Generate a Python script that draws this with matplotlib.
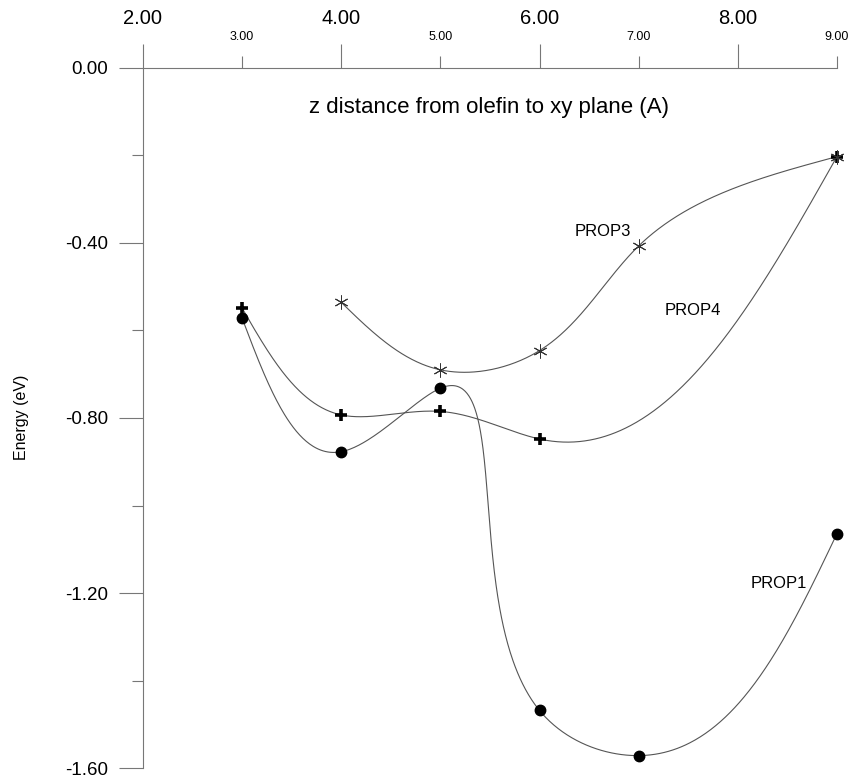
import matplotlib
matplotlib.use("Agg")
import matplotlib.pyplot as plt
import numpy as np
from matplotlib.ticker import FixedLocator, FormatStrFormatter

plt.rcParams['font.family'] = ['Liberation Sans', 'DejaVu Sans']

# data
prop1_x = [3, 4, 5, 6, 7, 9]
prop1_y = [-0.572, -0.877, -0.732, -1.468, -1.571, -1.064]
prop4_x = [3, 4, 5, 6, 9]
prop4_y = [-0.549, -0.793, -0.785, -0.848, -0.203]
prop3_x = [4, 5, 6, 7, 9]
prop3_y = [-0.536, -0.690, -0.646, -0.407, -0.203]

x_major = [2, 4, 6, 8]
x_minor = [3, 5, 7, 9]
y_major = [0.0, -0.4, -0.8, -1.2, -1.6]
y_minor = [-0.2, -0.6, -1.0, -1.4]


def natural_coeffs(t, v):
    k = len(t)
    h = np.diff(t)
    A = np.zeros((k, k))
    r = np.zeros(k)
    A[0, 0] = 1
    A[-1, -1] = 1
    for i in range(1, k - 1):
        A[i, i - 1] = h[i - 1]
        A[i, i] = 2 * (h[i - 1] + h[i])
        A[i, i + 1] = h[i]
        r[i] = 3 * ((v[i + 1] - v[i]) / h[i] - (v[i] - v[i - 1]) / h[i - 1])
    c = np.linalg.solve(A, r)
    b = (v[1:] - v[:-1]) / h - h * (2 * c[:-1] + c[1:]) / 3
    d = (c[1:] - c[:-1]) / (3 * h)
    return b, c, d


def smooth_curve(ax, x, y, n=600):
    # parametric natural spline, chord length measured on screen
    x = np.asarray(x, float)
    y = np.asarray(y, float)
    pts = ax.transData.transform(np.column_stack([x, y]))
    t = np.concatenate([[0], np.cumsum(np.hypot(*np.diff(pts, axis=0).T))])
    ts = np.linspace(0, t[-1], n)
    idx = np.clip(np.searchsorted(t, ts, side='right') - 1, 0, len(t) - 2)
    dt = ts - t[idx]
    out = []
    for v in (pts[:, 0], pts[:, 1]):
        b, c, d = natural_coeffs(t, v)
        out.append(v[idx] + b[idx] * dt + c[idx] * dt**2 + d[idx] * dt**3)
    back = ax.transData.inverted().transform(np.column_stack(out))
    return back[:, 0], back[:, 1]


fig = plt.figure(figsize=(8.52, 7.78), dpi=100)
ax = fig.add_axes([0.1678, 0.01247, 0.81455, 0.90051])
ax.set_xlim(2, 9)
ax.set_ylim(-1.6, 0)

line_c = '#555555'
axis_c = '#777777'

for xs, ys in [(prop1_x, prop1_y), (prop4_x, prop4_y), (prop3_x, prop3_y)]:
    sx, sy = smooth_curve(ax, xs, ys)
    ax.plot(sx, sy, color=line_c, lw=0.8, clip_on=False)

ax.plot(prop1_x, prop1_y, 'o', color='black', ms=7.5, ls='none', clip_on=False)
ax.plot(prop4_x, prop4_y, '+', color='black', ms=9, mew=2.6, ls='none', clip_on=False)
ax.plot(prop3_x, prop3_y, marker=(6, 2, 0), color='#333333', ms=10, mew=0.7,
        ls='none', clip_on=False)

ax.text(6.64, -0.375, 'PROP3', fontsize=12, ha='center', va='center')
ax.text(7.55, -0.555, 'PROP4', fontsize=12, ha='center', va='center')
ax.text(8.41, -1.178, 'PROP1', fontsize=12, ha='center', va='center')

ax.spines['bottom'].set_visible(False)
ax.spines['right'].set_visible(False)
ax.spines['top'].set_color(axis_c)
ax.spines['left'].set_color(axis_c)

ax.xaxis.tick_top()
ax.xaxis.set_major_locator(FixedLocator(x_major))
ax.xaxis.set_minor_locator(FixedLocator(x_minor))
ax.xaxis.set_major_formatter(FormatStrFormatter('%.2f'))
ax.xaxis.set_minor_formatter(FormatStrFormatter('%.2f'))
ax.tick_params(axis='x', which='major', direction='out', length=17.3, width=0.8,
               color=axis_c, labelsize=14.5, pad=11)
ax.tick_params(axis='x', which='minor', direction='out', length=8.6, width=0.8,
               color=axis_c, labelsize=9, pad=9.5)

ax.yaxis.set_major_locator(FixedLocator(y_major))
ax.yaxis.set_minor_locator(FixedLocator(y_minor))
ax.yaxis.set_major_formatter(FormatStrFormatter('%.2f'))
ax.tick_params(axis='y', which='major', direction='out', length=17.3, width=0.8,
               color=axis_c, labelsize=13.5, pad=8)
ax.tick_params(axis='y', which='minor', direction='out', length=8, width=0.8,
               color=axis_c)

ax.text(0.498, 0.943, 'z distance from olefin to xy plane (A)', fontsize=16,
        ha='center', va='center', transform=ax.transAxes)
fig.text(22 / 852, 1 - 417 / 778, 'Energy (eV)', rotation=90, fontsize=11.5,
         ha='center', va='center')

fig.savefig('out.png', dpi=100)
